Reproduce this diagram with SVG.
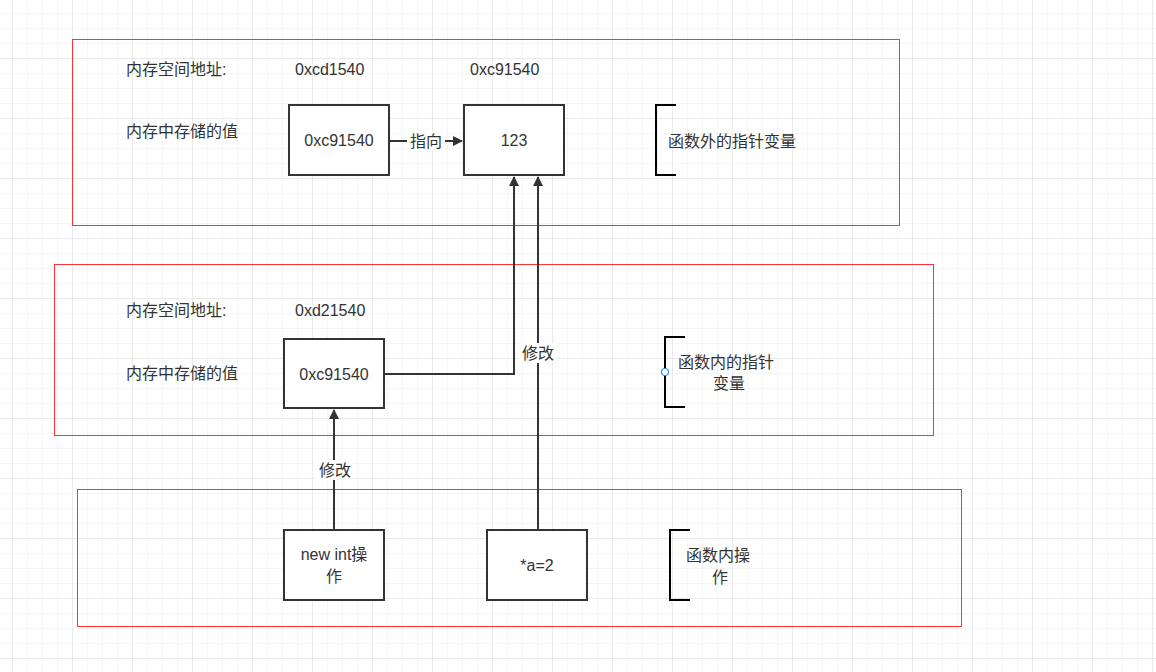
<svg xmlns="http://www.w3.org/2000/svg" width="1156" height="672" viewBox="0 0 1156 672">
<style>
text{font-family:"Liberation Sans","Noto Sans CJK SC",sans-serif;font-size:16px;fill:#333}
.b{fill:#fff;stroke:#333;stroke-width:2}
.r{fill:none;stroke:#f33;stroke-width:1}
.c{fill:none;stroke:#333;stroke-width:2}
.br{fill:none;stroke:#000;stroke-width:2}
</style>
<defs>
<pattern id="g" width="15" height="15" patternUnits="userSpaceOnUse" x="12" y="13"><path d="M0 0V15M0 0H15" stroke="#ececec" stroke-width="1" fill="none"/></pattern>
<pattern id="G" width="60" height="60" patternUnits="userSpaceOnUse" x="12" y="58"><path d="M0 0V60M0 0H60" stroke="#e0e0e0" stroke-width="1" fill="none"/></pattern>
<marker id="a" markerWidth="10" markerHeight="10" refX="9" refY="5" orient="auto" markerUnits="userSpaceOnUse"><path d="M0 0L10 5L0 10z" fill="#333"/></marker>
</defs>
<rect width="1156" height="672" fill="#fff"/>
<rect width="1156" height="672" fill="url(#g)"/>
<rect width="1156" height="672" fill="url(#G)"/>
<g id="frames">
<rect class="r" x="72.500" y="39.500" width="827" height="186"/>
<rect class="r" x="54.500" y="264.500" width="879" height="171"/>
<rect class="r" x="77.500" y="489.500" width="884" height="137"/>
</g>
<g id="labels">
<text x="126" y="75">内存空间地址:</text>
<text x="295" y="75">0xcd1540</text>
<text x="470" y="75">0xc91540</text>
<text x="126" y="137">内存中存储的值</text>
<text x="126" y="316">内存空间地址:</text>
<text x="295" y="316">0xd21540</text>
<text x="126" y="379">内存中存储的值</text>
</g>
<g id="connectors">
<path class="c" d="M389 141H462" marker-end="url(#a)"/>
<rect x="407" y="131" width="38" height="20" fill="#fff"/>
<text x="426" y="147" text-anchor="middle">指向</text>
<path class="c" d="M385 374H514V177" marker-end="url(#a)"/>
<path class="c" d="M538 530V177" marker-end="url(#a)"/>
<rect x="519" y="343" width="38" height="20" fill="#fff"/>
<text x="538" y="359" text-anchor="middle">修改</text>
<path class="c" d="M334 530V410" marker-end="url(#a)"/>
<rect x="315" y="460" width="38" height="20" fill="#fff"/>
<text x="335" y="476" text-anchor="middle">修改</text>
</g>
<g id="n1"><rect class="b" x="289" y="105" width="100" height="70"/><text x="339" y="146" text-anchor="middle">0xc91540</text></g>
<g id="n2"><rect class="b" x="464" y="105" width="100" height="70"/><text x="514" y="146" text-anchor="middle">123</text></g>
<g id="n3"><rect class="b" x="284" y="339" width="100" height="69"/><text x="334" y="380" text-anchor="middle">0xc91540</text></g>
<g id="n4"><rect class="b" x="284" y="530" width="100" height="70"/><text x="334" y="560" text-anchor="middle">new int操</text><text x="334" y="582" text-anchor="middle">作</text></g>
<g id="n5"><rect class="b" x="487" y="530" width="100" height="70"/><text x="537" y="571" text-anchor="middle">*a=2</text></g>
<g id="b1"><path class="br" d="M676 105H656V175H676"/><text x="668" y="147">函数外的指针变量</text></g>
<g id="b2"><path class="br" d="M685 337H665V407H685"/><text x="678" y="368">函数内的指针</text><text x="729" y="389" text-anchor="middle">变量</text><circle cx="665" cy="372" r="3.500" fill="#fff" stroke="#3a8ee6" stroke-width="1.200"/></g>
<g id="b3"><path class="br" d="M690 530H670V600H690"/><text x="686" y="561">函数内操</text><text x="720" y="583" text-anchor="middle">作</text></g>
</svg>
